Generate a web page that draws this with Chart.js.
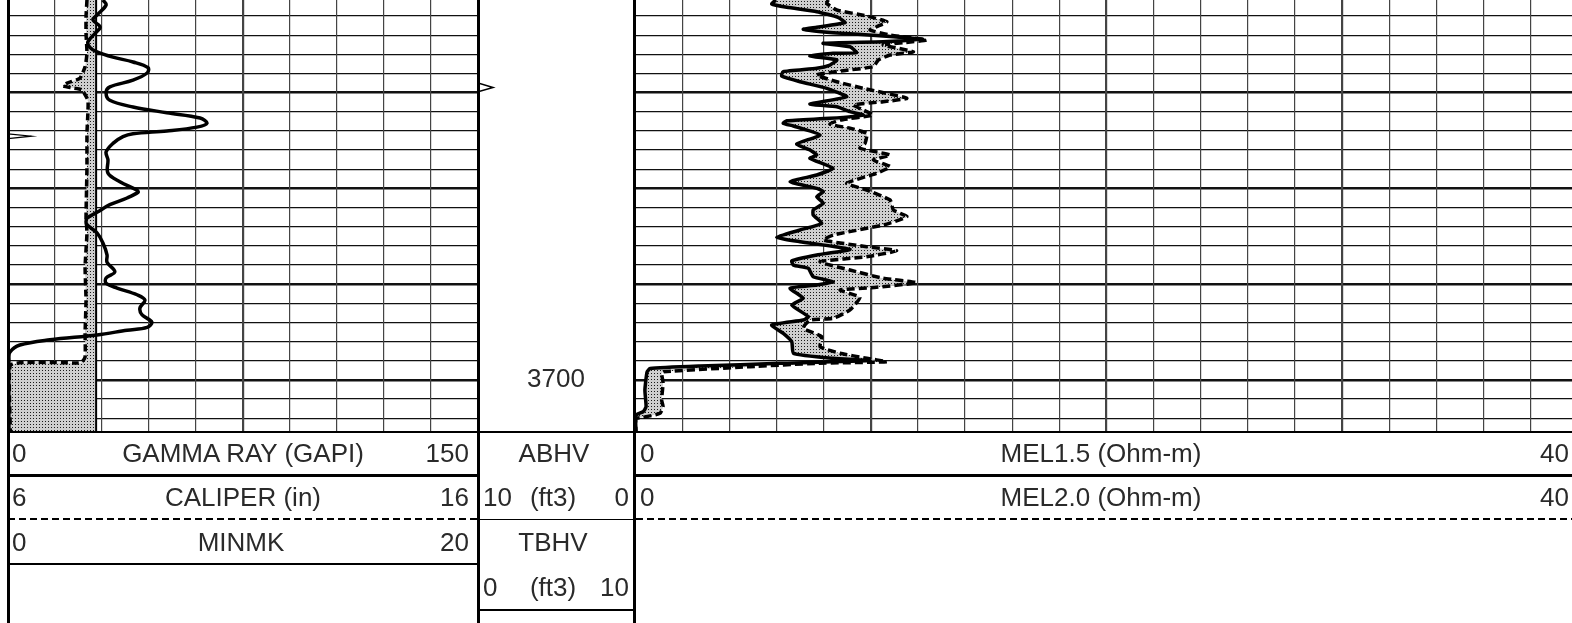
<!DOCTYPE html>
<html>
<head>
<meta charset="utf-8">
<script src="https://cdn.jsdelivr.net/npm/chart.js@4.4.1/dist/chart.umd.min.js"></script>
<style>
  html, body { margin: 0; padding: 0; background: #fff; }
  body { width: 1572px; height: 623px; overflow: hidden; position: relative;
         font-family: "Liberation Sans", Arial, sans-serif; }
  canvas { position: absolute; top: 0; }
  .ln { position: absolute; background: #000; }
  .dash { position: absolute; height: 2px;
          background: repeating-linear-gradient(90deg, #000 0 7px, transparent 7px 11px); }
  .tx { position: absolute; font-size: 26px; color: #2a2a2a; white-space: nowrap; }
  .c { transform: translateX(-50%); }
  .r { transform: translateX(-100%); }
</style>
</head>
<body>
<canvas id="track1" width="470" height="432" style="left:8px"></canvas>
<canvas id="depth" width="156" height="432" style="left:478px"></canvas>
<canvas id="track3" width="943" height="432" style="left:635px"></canvas>

<!-- track borders and header rules -->
<div class="ln" style="left:7px;top:0;width:3px;height:623px"></div>
<div class="ln" style="left:477px;top:0;width:3px;height:623px"></div>
<div class="ln" style="left:633px;top:0;width:3px;height:623px"></div>
<div class="ln" style="left:8px;top:431px;width:1564px;height:2px"></div>
<div class="ln" style="left:8px;top:474px;width:470px;height:3px"></div>
<div class="ln" style="left:634px;top:474px;width:938px;height:3px"></div>
<div class="dash" style="left:8px;top:518px;width:470px"></div>
<div class="dash" style="left:636px;top:518px;width:936px"></div>
<div class="ln" style="left:478px;top:519px;width:156px;height:1px"></div>
<div class="ln" style="left:8px;top:563px;width:470px;height:2px"></div>
<div class="ln" style="left:478px;top:609px;width:156px;height:2px"></div>

<!-- header row 1 -->
<div class="tx" style="left:12px;top:432px;line-height:43px">0</div>
<div class="tx c" style="left:243px;top:432px;line-height:43px">GAMMA RAY (GAPI)</div>
<div class="tx r" style="left:469px;top:432px;line-height:43px">150</div>
<div class="tx c" style="left:554px;top:432px;line-height:43px">ABHV</div>
<div class="tx" style="left:640px;top:432px;line-height:43px">0</div>
<div class="tx c" style="left:1101px;top:432px;line-height:43px">MEL1.5 (Ohm-m)</div>
<div class="tx r" style="left:1569px;top:432px;line-height:43px">40</div>
<!-- header row 2 -->
<div class="tx" style="left:12px;top:476px;line-height:43px">6</div>
<div class="tx c" style="left:243px;top:476px;line-height:43px">CALIPER (in)</div>
<div class="tx r" style="left:469px;top:476px;line-height:43px">16</div>
<div class="tx" style="left:483px;top:476px;line-height:43px">10</div>
<div class="tx c" style="left:553px;top:476px;line-height:43px">(ft3)</div>
<div class="tx r" style="left:629px;top:476px;line-height:43px">0</div>
<div class="tx" style="left:640px;top:476px;line-height:43px">0</div>
<div class="tx c" style="left:1101px;top:476px;line-height:43px">MEL2.0 (Ohm-m)</div>
<div class="tx r" style="left:1569px;top:476px;line-height:43px">40</div>
<!-- header row 3 -->
<div class="tx" style="left:12px;top:520px;line-height:45px">0</div>
<div class="tx c" style="left:241px;top:520px;line-height:45px">MINMK</div>
<div class="tx r" style="left:469px;top:520px;line-height:45px">20</div>
<div class="tx c" style="left:553px;top:520px;line-height:45px">TBHV</div>
<!-- header row 4 -->
<div class="tx" style="left:483px;top:565px;line-height:45px">0</div>
<div class="tx c" style="left:553px;top:565px;line-height:45px">(ft3)</div>
<div class="tx r" style="left:629px;top:565px;line-height:45px">10</div>

<script>
// depth window (ft)
const depthTop = 3660.33;
const depthBottom = 3705.43;
const depthLabels = [3650, 3700, 3750];

// gamma ray (GAPI)
const grDepth = [3660.33, 3660.85, 3661.9, 3662.4, 3663.15, 3663.8, 3664.7, 3665.3, 3665.75, 3666.3,
  3666.8, 3667.4, 3667.95, 3668.7, 3669.4, 3670.0, 3670.8, 3671.5, 3672.1, 3672.65,
  3673.2, 3673.6, 3674.0, 3674.3, 3674.6, 3675.3, 3676.2, 3677.0, 3678.4, 3679.3,
  3680.2, 3680.4, 3681.0, 3681.7, 3682.5, 3683.1, 3683.5, 3683.8, 3684.65, 3685.7,
  3686.95, 3687.7, 3688.7, 3689.35, 3689.9, 3690.4, 3691.1, 3691.65, 3692.5, 3693.2,
  3693.95, 3694.5, 3694.8, 3695.3, 3695.8, 3696.35, 3697.1, 3697.9, 3705.43];
const grValues = [30.3, 31.3, 28.4, 27.1, 29.4, 27.8, 25.5, 26.2, 28.4, 33.5,
  39.9, 44.7, 44.4, 39.9, 32.5, 31.3, 32.5, 39.9, 50.7, 61.3,
  63.5, 60.3, 50.7, 39.9, 36.7, 33.5, 31.3, 31.9, 31.9, 35.7,
  41.2, 41.5, 38.0, 32.5, 28.4, 25.2, 24.9, 25.2, 28.4, 30.3,
  31.6, 31.6, 34.1, 31.3, 31.3, 34.8, 41.2, 43.7, 42.1, 42.8,
  45.9, 44.4, 38.0, 28.4, 13.4, 3.8, 0.6, 0.3, 0.3];

// caliper (in) and bit size
const calDepth = [3660.33, 3662.1, 3663.8, 3665.9, 3667.3, 3668.5, 3669.0, 3669.3, 3669.5, 3669.7,
  3670.8, 3672.1, 3674.2, 3677.8, 3683.0, 3684.65, 3688.2, 3691.65, 3695.1, 3697.6,
  3698.2, 3698.45, 3705.43];
const calValues = [7.68, 7.66, 7.66, 7.68, 7.64, 7.53, 7.26, 7.17, 7.36, 7.57,
  7.70, 7.70, 7.68, 7.68, 7.66, 7.68, 7.64, 7.66, 7.64, 7.64,
  7.55, 6.05, 6.05];
const bitSize = 7.875;

// MINMK
const minDepth = [3660.33, 3674.3, 3674.55, 3674.8, 3705.43];
const minValues = [0, 0, 1.0, 0, 0];

// TBHV tick (ft3)
const tbhvDepth = [3669.0, 3669.46, 3669.9];
const tbhvValues = [0, 0.96, 0];

// MEL1.5 (Ohm-m)
const mel15Depth = [3660.33, 3660.75, 3661.09, 3661.55, 3662.14, 3662.70, 3663.18, 3663.39, 3663.74, 3664.09,
  3664.43, 3664.68, 3664.85, 3665.21, 3665.83, 3665.89, 3666.18, 3666.59, 3667.12, 3667.46,
  3667.82, 3668.26, 3668.86, 3669.55, 3670.43, 3671.19, 3671.47, 3671.99, 3672.34, 3672.68,
  3672.93, 3673.20, 3673.48, 3674.42, 3675.36, 3675.99, 3676.51, 3676.86, 3677.90, 3678.60,
  3679.30, 3679.99, 3680.34, 3680.86, 3681.55, 3682.25, 3682.77, 3683.64, 3684.34, 3685.10,
  3685.56, 3686.36, 3686.95, 3687.55, 3688.00, 3688.34, 3689.22, 3689.74, 3690.08, 3690.43,
  3691.47, 3692.17, 3693.39, 3693.74, 3694.26, 3695.13, 3696.00, 3697.21, 3697.74, 3697.97,
  3698.26, 3698.54, 3698.80, 3699.17, 3701.05, 3702.79, 3703.31, 3703.66, 3705.43];
const mel15Values = [5.98, 5.80, 6.44, 7.71, 8.61, 8.91, 7.71, 7.14, 8.40, 10.52,
  12.22, 10.52, 7.98, 9.12, 9.40, 8.40, 7.42, 8.56, 8.27, 7.71,
  6.28, 6.22, 7.00, 8.13, 8.98, 7.42, 8.56, 9.12, 9.68, 8.27,
  6.44, 6.29, 6.72, 7.85, 6.86, 7.42, 7.71, 7.42, 8.40, 7.71,
  6.58, 7.71, 7.99, 7.71, 7.99, 7.56, 7.56, 7.92, 7.00, 6.01,
  7.00, 9.12, 7.71, 6.65, 6.72, 7.35, 7.56, 8.41, 7.71, 6.58,
  7.14, 6.65, 7.35, 7.14, 5.80, 6.29, 6.65, 6.72, 8.41, 9.97,
  6.15, 2.76, 0.64, 0.51, 0.42, 0.47, 0.35, 0.04, 0.04];

// MEL2.0 (Ohm-m)
const mel20Depth = [3660.33, 3660.67, 3661.37, 3662.00, 3662.60, 3663.12, 3663.46, 3663.98, 3664.51, 3664.79,
  3665.03, 3665.73, 3666.07, 3666.59, 3667.29, 3667.71, 3668.16, 3668.86, 3669.55, 3670.59,
  3670.95, 3671.29, 3671.81, 3672.34, 3672.86, 3673.28, 3673.72, 3674.25, 3675.29, 3675.81,
  3676.51, 3677.03, 3677.73, 3678.42, 3679.47, 3680.17, 3681.21, 3682.25, 3682.95, 3683.82,
  3684.86, 3685.39, 3686.09, 3686.50, 3687.13, 3687.65, 3688.52, 3689.38, 3689.84, 3690.32,
  3690.61, 3691.37, 3692.69, 3693.56, 3693.74, 3694.60, 3695.48, 3696.53, 3697.21, 3697.74,
  3698.09, 3698.26, 3698.61, 3699.14, 3699.30, 3700.31, 3702.09, 3702.79, 3703.48, 3703.90,
  3704.02, 3705.43];
const mel20Values = [8.20, 8.13, 8.56, 9.83, 10.68, 10.25, 9.97, 10.82, 12.37, 11.38,
  10.53, 11.81, 10.82, 10.32, 10.11, 8.84, 7.71, 8.56, 9.68, 11.53,
  10.53, 9.26, 9.68, 10.11, 8.70, 8.27, 9.12, 9.83, 9.76, 9.54,
  10.82, 10.11, 10.82, 10.25, 8.98, 9.83, 10.82, 10.96, 11.53, 10.53,
  8.41, 7.99, 9.83, 11.10, 9.83, 7.85, 9.12, 10.53, 11.95, 10.25,
  8.70, 9.54, 9.12, 8.41, 7.42, 7.14, 7.92, 7.85, 8.70, 9.83,
  10.68, 7.71, 4.88, 1.20, 1.13, 1.19, 1.13, 1.19, 1.06, 0.35,
  0.04, 0.04];

function pts(depths, values) {
  return depths.map((d, i) => ({ x: values[i], y: d }));
}

function stipple(canvasId) {
  const c = document.createElement('canvas');
  c.width = 3; c.height = 3;
  const g = c.getContext('2d');
  g.fillStyle = '#cfcfcf';
  g.fillRect(0, 0, 3, 3);
  g.fillStyle = '#1a1a1a';
  g.fillRect(1, 1, 1, 1);
  return document.getElementById(canvasId).getContext('2d').createPattern(c, 'repeat');
}

function depthAxis(showGrid) {
  return {
    type: 'linear', reverse: true, min: depthTop, max: depthBottom,
    display: showGrid,
    afterBuildTicks: scale => {
      const t = [];
      for (let d = 3662; d <= 3704; d += 2) t.push({ value: d });
      scale.ticks = t;
    },
    ticks: { display: false },
    border: { display: false },
    grid: {
      drawTicks: false, color: '#111',
      lineWidth: c => (c.tick && c.tick.value % 10 === 0) ? 2.6 : 1.3
    }
  };
}

function trackAxis(max, step, major) {
  return {
    axis: 'x', type: 'linear', min: 0, max: max, position: 'top',
    afterBuildTicks: scale => {
      const t = [];
      for (let v = step; v < max - 0.001; v += step) t.push({ value: v });
      scale.ticks = t;
    },
    ticks: { display: false },
    border: { display: false },
    grid: {
      drawTicks: false, color: '#444',
      lineWidth: c => (c.tick && Math.abs(c.tick.value % major) < 0.001) ? 2.2 : 1.2
    }
  };
}

const common = {
  indexAxis: 'y',
  responsive: false,
  animation: false,
  layout: { padding: 0 },
  plugins: {
    legend: { display: false },
    tooltip: { enabled: false },
    filler: { drawTime: 'beforeDatasetsDraw' }
  }
};

// track 1: gamma ray, caliper, MINMK
new Chart(document.getElementById('track1'), {
  type: 'line',
  data: {
    datasets: [
      { label: 'BIT', data: pts([depthTop, depthBottom], [bitSize, bitSize]), xAxisID: 'xCal',
        borderColor: '#000', borderWidth: 2, pointRadius: 0, fill: false },
      { label: 'CALIPER', data: pts(calDepth, calValues), xAxisID: 'xCal',
        borderColor: '#000', borderWidth: 3.5, borderDash: [7, 4], pointRadius: 0, tension: 0.15,
        fill: '-1', backgroundColor: stipple('track1') },
      { label: 'GAMMA RAY', data: pts(grDepth, grValues), xAxisID: 'xGr',
        borderColor: '#000', borderWidth: 3.5, pointRadius: 0, tension: 0.35, fill: false },
      { label: 'MINMK', data: pts(minDepth, minValues), xAxisID: 'xMin',
        borderColor: '#000', borderWidth: 1.2, pointRadius: 0, fill: false }
    ]
  },
  options: Object.assign({}, common, {
    scales: {
      y: depthAxis(true),
      xGr: trackAxis(150, 15, 75),
      xCal: { axis: 'x', type: 'linear', min: 6, max: 16, display: false },
      xMin: { axis: 'x', type: 'linear', min: 0, max: 20, display: false }
    }
  })
});

// depth track
const depthLabelPlugin = {
  id: 'depthLabels',
  afterDraw(chart) {
    const { ctx, chartArea, scales } = chart;
    ctx.save();
    ctx.font = '26px "Liberation Sans", Arial, sans-serif';
    ctx.fillStyle = '#2a2a2a';
    ctx.textAlign = 'center';
    ctx.textBaseline = 'middle';
    depthLabels.forEach(d => {
      if (d < depthTop || d > depthBottom) return;
      ctx.fillText(String(d), (chartArea.left + chartArea.right) / 2, scales.y.getPixelForValue(d));
    });
    ctx.restore();
  }
};

new Chart(document.getElementById('depth'), {
  type: 'line',
  data: {
    datasets: [
      { label: 'TBHV', data: pts(tbhvDepth, tbhvValues), xAxisID: 'xT',
        borderColor: '#000', borderWidth: 1.5, pointRadius: 0, fill: false }
    ]
  },
  options: Object.assign({}, common, {
    scales: {
      y: depthAxis(false),
      xT: { axis: 'x', type: 'linear', min: 0, max: 10, display: false }
    }
  }),
  plugins: [depthLabelPlugin]
});

// track 3: micro resistivity
new Chart(document.getElementById('track3'), {
  type: 'line',
  data: {
    datasets: [
      { label: 'MEL1.5', data: pts(mel15Depth, mel15Values), xAxisID: 'xA',
        borderColor: '#000', borderWidth: 3.5, pointRadius: 0, tension: 0.15, fill: false },
      { label: 'MEL2.0', data: pts(mel20Depth, mel20Values), xAxisID: 'xB',
        borderColor: '#000', borderWidth: 3.5, borderDash: [8, 4], pointRadius: 0, tension: 0.15,
        fill: '-1', backgroundColor: stipple('track3') }
    ]
  },
  options: Object.assign({}, common, {
    scales: {
      y: depthAxis(true),
      xA: trackAxis(40, 2, 10),
      xB: { axis: 'x', type: 'linear', min: 0, max: 40, display: false }
    }
  })
});
</script>
</body>
</html>
